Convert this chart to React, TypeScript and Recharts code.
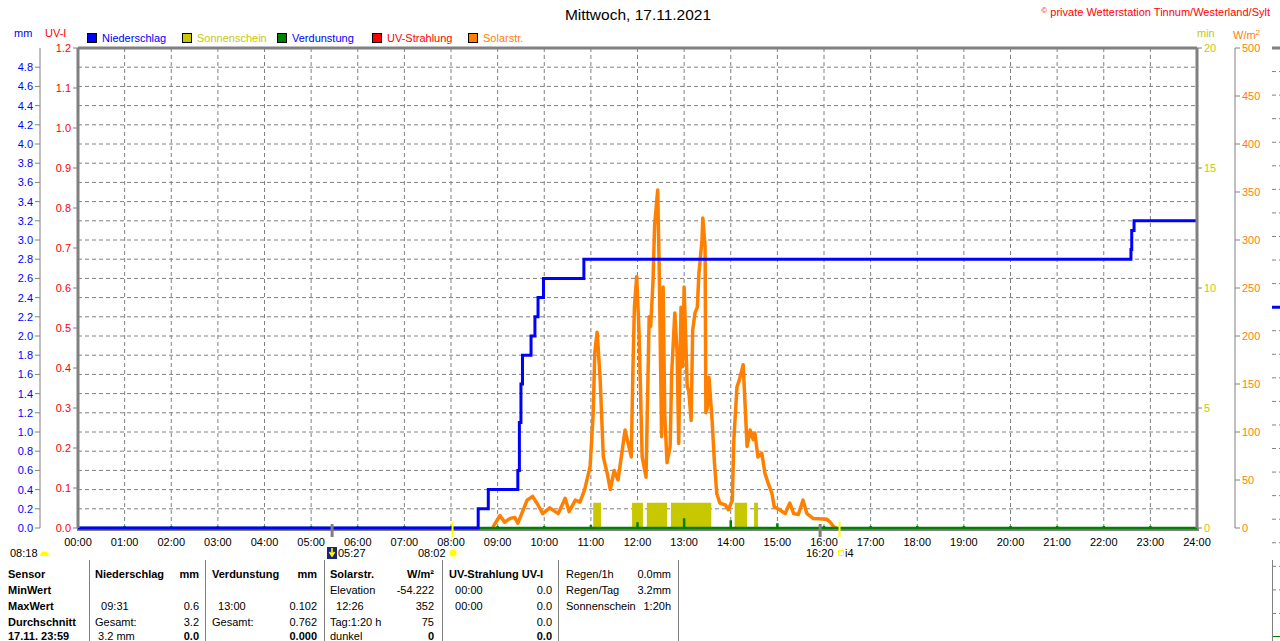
import React from "react";
import {
  ComposedChart,
  Line,
  Area,
  Scatter,
  XAxis,
  YAxis,
  CartesianGrid,
  ReferenceLine,
} from "recharts";

const FONT = '"Liberation Sans", Arial, sans-serif';

const BLUE = "#0000FF";
const OLIVE = "#C8C800";
const GREEN = "#008000";
const RED = "#FF0000";
const ORANGE = "#FF8000";
const GRAY = "#808080";

// axis ids: axes on one side are stacked in id order, first one next to the plot
const UV = "a_uv";
const MM = "b_mm";
const MIN = "a_min";
const SOL = "b_sol";

// x axis: one tick per hour
const hourLabels = [
  "00:00", "01:00", "02:00", "03:00", "04:00", "05:00", "06:00", "07:00",
  "08:00", "09:00", "10:00", "11:00", "12:00", "13:00", "14:00", "15:00",
  "16:00", "17:00", "18:00", "19:00", "20:00", "21:00", "22:00", "23:00",
  "24:00",
];

const mmTicks = [
  0, 0.2, 0.4, 0.6, 0.8, 1.0, 1.2, 1.4, 1.6, 1.8, 2.0, 2.2, 2.4, 2.6, 2.8,
  3.0, 3.2, 3.4, 3.6, 3.8, 4.0, 4.2, 4.4, 4.6, 4.8,
];
const uvTicks = [0, 0.1, 0.2, 0.3, 0.4, 0.5, 0.6, 0.7, 0.8, 0.9, 1.0, 1.1, 1.2];
const sunTicks = [0, 5, 10, 15, 20];
const solarTicks = [0, 50, 100, 150, 200, 250, 300, 350, 400, 450, 500];

// Niederschlag (kumuliert, mm)
const rainTimes = [
  "00:00", "08:35", "08:48", "09:26", "09:28", "09:30", "09:32", "09:43",
  "09:48", "09:52", "09:59", "10:51", "22:35", "22:36", "22:39", "24:00",
];
const rainValues = [
  0, 0.2, 0.4, 0.6, 1.1, 1.5, 1.8, 2.0, 2.2, 2.4, 2.6, 2.8, 2.9, 3.1, 3.2, 3.2,
];

// Solarstrahlung (W/m²)
const solarTimes = [
  "08:54", "09:03", "09:09", "09:16", "09:22", "09:26", "09:31", "09:38",
  "09:45", "09:52", "09:58", "10:07", "10:18", "10:27", "10:32", "10:40",
  "10:46", "10:52", "10:59", "11:03", "11:05", "11:08", "11:09", "11:12",
  "11:16", "11:21", "11:25", "11:30", "11:35", "11:44", "11:48", "11:52",
  "11:54", "11:56", "11:59", "12:02", "12:06", "12:11", "12:15", "12:17",
  "12:20", "12:22", "12:26", "12:28", "12:31", "12:33", "12:35", "12:38",
  "12:42", "12:44", "12:48", "12:51", "12:53", "12:56", "12:58", "13:00",
  "13:04", "13:06", "13:09", "13:11", "13:14", "13:17", "13:19", "13:23",
  "13:24", "13:27", "13:28", "13:30", "13:32", "13:36", "13:39", "13:42",
  "13:46", "13:53", "13:57", "14:02", "14:04", "14:08", "14:11", "14:16",
  "14:18", "14:21", "14:25", "14:29", "14:31", "14:35", "14:40", "14:44",
  "14:48", "14:53", "14:56", "15:03", "15:10", "15:16", "15:21", "15:27",
  "15:33", "15:38", "15:46", "16:04", "16:08", "16:13", "16:16",
];
const solarValues = [
  1, 13, 6, 10, 11, 5, 15, 29,
  33, 24, 15, 21, 15, 31, 17, 29,
  27, 40, 64, 120, 182, 204, 193, 154,
  74, 57, 40, 60, 50, 102, 88, 74,
  161, 230, 262, 203, 74, 53, 220, 210,
  258, 315, 352, 267, 95, 251, 120, 68,
  85, 161, 224, 182, 88, 230, 168, 251,
  147, 143, 112, 206, 224, 230, 265, 300,
  323, 293, 120, 126, 157, 112, 68, 36,
  26, 24, 19, 29, 92, 147, 154, 170,
  136, 85, 102, 92, 99, 74, 78, 57,
  47, 36, 22, 19, 15, 26, 15, 14,
  29, 15, 10, 9, 6, 1, 0,
];

// Sonnenschein (min)
const sunTimes = [
  "00:00", "11:03", "11:13", "11:53", "12:07", "12:12", "12:38", "12:43",
  "13:35", "14:05", "14:21", "14:30", "14:35", "24:00",
];
const sunValues = [0, 1.05, 0, 1.05, 0, 1.05, 0, 1.05, 0, 1.05, 0, 1.05, 0, 0];

// Verdunstung (mm pro Stunde)
const evapTimes = [
  "01:00", "02:00", "03:00", "04:00", "05:00", "06:00", "07:00", "08:00",
  "09:00", "10:00", "11:00", "12:00", "13:00", "14:00", "15:00", "16:00",
  "17:00", "18:00", "19:00", "20:00", "21:00", "22:00", "23:00",
];
const evapValues = [
  0.02, 0.02, 0.02, 0.02, 0.02, 0.02, 0.02, 0.02,
  0.02, 0.02, 0.03, 0.06, 0.102, 0.08, 0.05, 0.02,
  0.02, 0.02, 0.02, 0.02, 0.02, 0.02, 0.02,
];

// UV-Strahlung (UV-I)
const uvTimes = ["00:00", "24:00"];
const uvValues = [0, 0];

// Sonne / Mond Auf- und Untergang
const astroTimes = ["05:27", "08:02", "15:55", "16:20"];
const astroKinds = ["moon", "sun", "moon", "sun"];

// next panel (cut off at the right edge)
const nextTicks = [
  0, 1, 2, 3, 4, 5, 6, 7, 8, 9, 10, 11, 12, 13, 14, 15, 16, 17, 18, 19, 20,
  21, 22, 23, 24, 25,
];
const nextTimes = ["00:00", "24:00"];
const nextValues = [14, 14];

const legendItems = [
  { name: "Niederschlag", box: BLUE, text: BLUE },
  { name: "Sonnenschein", box: OLIVE, text: OLIVE },
  { name: "Verdunstung", box: GREEN, text: BLUE },
  { name: "UV-Strahlung", box: RED, text: RED },
  { name: "Solarstr.", box: ORANGE, text: ORANGE },
];
const legendX = [87, 182, 277, 372, 468];

const tableRows = [
  ["Sensor", "Niederschlag", "mm", "Verdunstung", "mm", "Solarstr.", "W/m²", "UV-Strahlung UV-I", "", "Regen/1h", "0.0mm"],
  ["MinWert", "", "", "", "", "Elevation", "-54.222", "\u00a0\u00a000:00", "0.0", "Regen/Tag", "3.2mm"],
  ["MaxWert", "\u00a0\u00a009:31", "0.6", "\u00a0\u00a013:00", "0.102", "\u00a0\u00a012:26", "352", "\u00a0\u00a000:00", "0.0", "Sonnenschein", "1:20h"],
  ["Durchschnitt", "Gesamt:", "3.2", "Gesamt:", "0.762", "Tag:1:20 h", "75", "", "0.0", "", ""],
  ["17.11.\u00a023:59", "\u00a03.2 mm", "0.0", "", "0.000", "dunkel", "0", "", "0.0", "", ""],
];
const tableBold = [
  [1, 1, 1, 1, 1, 1, 1, 1, 1, 0, 0],
  [1, 0, 0, 0, 0, 0, 0, 0, 0, 0, 0],
  [1, 0, 0, 0, 0, 0, 0, 0, 0, 0, 0],
  [1, 0, 0, 0, 0, 0, 0, 0, 0, 0, 0],
  [1, 0, 1, 0, 1, 0, 1, 0, 1, 0, 0],
];
const tableCols = [
  { x: 8, right: false },
  { x: 95, right: false },
  { x: 199, right: true },
  { x: 212, right: false },
  { x: 317, right: true },
  { x: 330, right: false },
  { x: 434, right: true },
  { x: 449, right: false },
  { x: 552, right: true },
  { x: 566, right: false },
  { x: 671, right: true },
];
const tableRowY = [574, 590, 606, 622, 636];
const tableSeparators = [89, 205, 324, 442, 558, 678, 1272];

const toMin = (s: string) => {
  const [h, m] = s.split(":").map(Number);
  return h * 60 + m;
};

const hourTicks = hourLabels.map((l) => toMin(l));
const rainData = rainTimes.map((t, i) => ({ t: toMin(t), v: rainValues[i] }));
const solarData = solarTimes.map((t, i) => ({ t: toMin(t), v: solarValues[i] }));
const sunData = sunTimes.map((t, i) => ({ t: toMin(t), v: sunValues[i] }));
const uvData = uvTimes.map((t, i) => ({ t: toMin(t), v: uvValues[i] }));
const astroData = astroTimes.map((t, i) => ({ t: toMin(t), v: 0, kind: astroKinds[i] }));
const nextData = nextTimes.map((t, i) => ({ t: toMin(t), v: nextValues[i] }));

// evaporation line: zero level, with the hourly value plotted at each full hour
const evapData = [
  { t: 0, v: 0 },
  ...evapTimes.flatMap((t, i) => [
    { t: toMin(t), v: 0 },
    { t: toMin(t), v: evapValues[i] },
    { t: toMin(t), v: 0 },
  ]),
  { t: 1440, v: 0 },
];

const markStyle: Record<string, { color: string; w: number; up: number; down: number }> = {
  moon: { color: GRAY, w: 3, up: 4, down: 9 },
  sun: { color: "#FFFF00", w: 2, up: 6, down: 9 },
};

function AstroMark(props: any) {
  const { cx, cy, payload } = props;
  const st = markStyle[payload.kind];
  return (
    <rect x={cx - st.w / 2} y={cy - st.up} width={st.w} height={st.up + st.down} fill={st.color} />
  );
}

function Txt({
  x, y, children, color = "#000", size = 11, bold = false, right = false,
}: any) {
  const style: React.CSSProperties = {
    position: "absolute",
    top: y - 7,
    lineHeight: "14px",
    fontSize: size,
    fontWeight: bold ? 700 : 400,
    color,
    whiteSpace: "nowrap",
  };
  if (right) {
    style.right = 1280 - x;
  } else {
    style.left = x;
  }
  return <div style={style}>{children}</div>;
}

const fmt1 = (v: number) => Number(v).toFixed(1);

export default function App() {
  return (
    <div
      style={{
        position: "absolute",
        left: 0,
        top: 0,
        width: 1280,
        height: 641,
        overflow: "hidden",
        background: "#fff",
        fontFamily: FONT,
      }}
    >
      {/* title */}
      <div
        style={{
          position: "absolute",
          left: 438,
          width: 400,
          top: 6,
          lineHeight: "18px",
          fontSize: 15.5,
          textAlign: "center",
          color: "#000",
        }}
      >
        Mittwoch, 17.11.2021
      </div>
      <Txt x={1270} y={11} color={RED} right>
        <span style={{ fontSize: 8, verticalAlign: "3px" }}>©</span> private Wetterstation Tinnum/Westerland/Sylt
      </Txt>

      {/* axis units */}
      <Txt x={14} y={33} color={BLUE}>mm</Txt>
      <Txt x={45} y={33} color={RED}>UV-I</Txt>
      <Txt x={1197} y={33} color={OLIVE}>min</Txt>
      <Txt x={1233} y={33} color={ORANGE}>
        W/m<span style={{ fontSize: 8, verticalAlign: "4px" }}>2</span>
      </Txt>

      {/* legend */}
      {legendItems.map((it, i) => (
        <React.Fragment key={it.name}>
          <div
            style={{
              position: "absolute",
              left: legendX[i],
              top: 33,
              width: 10,
              height: 10,
              boxSizing: "border-box",
              border: "1px solid #000",
              background: it.box,
            }}
          />
          <Txt x={legendX[i] + 15} y={38} color={it.text}>{it.name}</Txt>
        </React.Fragment>
      ))}

      {/* bottom frame line, drawn below the series */}
      <div
        style={{
          position: "absolute",
          left: 77,
          top: 528,
          width: 1122,
          height: 3,
          background: GRAY,
        }}
      />

      <div style={{ position: "absolute", left: 0, top: 0 }}>
        <ComposedChart
          width={1280}
          height={558}
          margin={{ top: 48, right: 8, bottom: 0, left: 2 }}
        >
          <CartesianGrid
            yAxisId={MM}
            stroke={GRAY}
            strokeDasharray="4 3"
          />
          <XAxis
            dataKey="t"
            type="number"
            domain={[0, 1440]}
            ticks={hourTicks}
            interval={0}
            tickFormatter={(v) => hourLabels[Math.round(v / 60)]}
            tick={{ fill: "#000", fontSize: 11 }}
            tickLine={false}
            tickSize={0}
            tickMargin={10}
            axisLine={false}
            height={30}
          />
          <YAxis
            yAxisId={UV}
            orientation="left"
            type="number"
            domain={[0, 1.2]}
            ticks={uvTicks}
            interval={0}
            tickFormatter={fmt1}
            tick={{ fill: RED, fontSize: 11 }}
            tickLine={{ stroke: GRAY }}
            tickSize={5}
            axisLine={{ stroke: GRAY, strokeWidth: 3 }}
            width={38}
          />
          <YAxis
            yAxisId={MM}
            orientation="left"
            type="number"
            domain={[0, 5]}
            ticks={mmTicks}
            interval={0}
            tickFormatter={fmt1}
            tick={{ fill: BLUE, fontSize: 11 }}
            tickLine={{ stroke: GRAY }}
            tickSize={5}
            axisLine={{ stroke: GRAY }}
            width={38}
          />
          <YAxis
            yAxisId={MIN}
            orientation="right"
            type="number"
            domain={[0, 20]}
            ticks={sunTicks}
            interval={0}
            tick={{ fill: OLIVE, fontSize: 11 }}
            tickLine={{ stroke: GRAY }}
            tickSize={5}
            axisLine={{ stroke: GRAY, strokeWidth: 3 }}
            width={38}
          />
          <YAxis
            yAxisId={SOL}
            orientation="right"
            type="number"
            domain={[0, 500]}
            ticks={solarTicks}
            interval={0}
            tick={{ fill: ORANGE, fontSize: 11 }}
            tickLine={{ stroke: GRAY }}
            tickSize={5}
            axisLine={{ stroke: GRAY }}
            width={37}
          />
          <ReferenceLine yAxisId={MM} y={5} stroke={GRAY} strokeWidth={3} />
          <Line
            yAxisId={UV}
            data={uvData}
            dataKey="v"
            stroke={RED}
            strokeWidth={2}
            dot={false}
            isAnimationActive={false}
          />
          <Area
            yAxisId={MIN}
            data={sunData}
            dataKey="v"
            type="stepAfter"
            stroke="none"
            fill={OLIVE}
            fillOpacity={1}
            isAnimationActive={false}
          />
          <Line
            yAxisId={SOL}
            data={solarData}
            dataKey="v"
            type="linear"
            stroke={ORANGE}
            strokeWidth={3.5}
            strokeLinejoin="round"
            dot={false}
            isAnimationActive={false}
          />
          <Line
            yAxisId={MM}
            data={evapData}
            dataKey="v"
            type="linear"
            stroke={GREEN}
            strokeWidth={2.5}
            dot={false}
            isAnimationActive={false}
          />
          <Line
            yAxisId={MM}
            data={rainData}
            dataKey="v"
            type="stepAfter"
            stroke={BLUE}
            strokeWidth={3}
            dot={false}
            isAnimationActive={false}
          />
          <Scatter
            yAxisId={UV}
            data={astroData}
            dataKey="v"
            shape={<AstroMark />}
            isAnimationActive={false}
          />
        </ComposedChart>
      </div>

      {/* next panel, cut off at the right edge */}
      <div
        style={{
          position: "absolute",
          left: 1272,
          top: 0,
          width: 8,
          height: 641,
          overflow: "hidden",
        }}
      >
        <ComposedChart width={300} height={637} margin={{ top: 48, right: 0, bottom: 0, left: 0 }}>
          <CartesianGrid
            yAxisId="n"
            vertical={false}
            horizontalValues={nextTicks}
            stroke={GRAY}
            strokeDasharray="4 3"
          />
          <XAxis dataKey="t" type="number" domain={[0, 1440]} hide />
          <YAxis yAxisId="n" type="number" domain={[0, 25]} ticks={nextTicks} hide />
          <ReferenceLine yAxisId="n" y={25} stroke={GRAY} strokeWidth={3} />
          <ReferenceLine yAxisId="n" y={0} stroke={GREEN} strokeWidth={2} />
          <Line
            yAxisId="n"
            data={nextData}
            dataKey="v"
            stroke={BLUE}
            strokeWidth={3}
            dot={false}
            isAnimationActive={false}
          />
        </ComposedChart>
      </div>

      {/* sun / moon times */}
      <Txt x={10} y={553}>08:18</Txt>
      <svg style={{ position: "absolute", left: 39, top: 547 }} width={11} height={10}>
        <path d="M1,9 A4.5,4.5 0 0 1 10,9 Z" fill="#FFFF00" />
      </svg>
      <svg style={{ position: "absolute", left: 327, top: 547 }} width={11} height={12}>
        <rect x={0} y={0} width={10} height={12} fill="#1A237E" />
        <path d="M5,1 L5,7 M2.5,5 L5,9 L7.5,5" stroke="#FFFF00" strokeWidth={1.6} fill="none" />
      </svg>
      <Txt x={338} y={553}>05:27</Txt>
      <Txt x={418} y={553}>08:02</Txt>
      <svg style={{ position: "absolute", left: 447, top: 547 }} width={12} height={12}>
        <circle cx={6} cy={6} r={3.5} fill="#FFFF00" />
        <circle cx={6} cy={6} r={5.5} fill="none" stroke="#FFFF88" strokeWidth={1} strokeDasharray="1.5 1.5" />
      </svg>
      <Txt x={806} y={553}>16:20</Txt>
      <svg style={{ position: "absolute", left: 838, top: 550 }} width={7} height={7}>
        <rect x={0.5} y={0.5} width={5} height={5} fill="none" stroke="#FFFF00" strokeWidth={1} />
      </svg>
      <Txt x={845} y={553}>i4</Txt>

      {/* table */}
      {tableSeparators.map((x) => (
        <div
          key={x}
          style={{
            position: "absolute",
            left: x,
            top: 560,
            width: 1,
            height: 81,
            background: GRAY,
          }}
        />
      ))}
      {tableRows.map((row, r) =>
        row.map((cell, c) =>
          cell ? (
            <Txt
              key={`${r}-${c}`}
              x={tableCols[c].x}
              y={tableRowY[r]}
              right={tableCols[c].right}
              bold={tableBold[r][c] === 1}
            >
              {cell}
            </Txt>
          ) : null,
        ),
      )}
    </div>
  );
}
